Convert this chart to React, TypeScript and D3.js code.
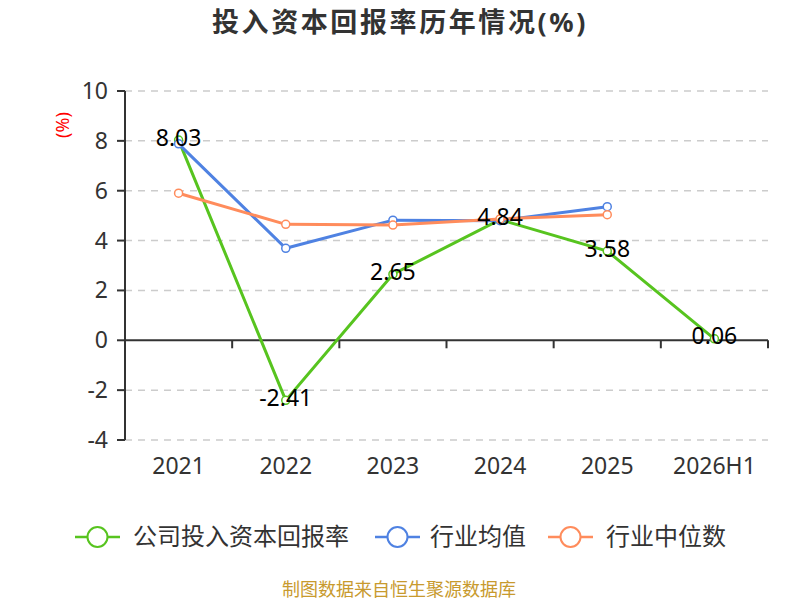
import React from 'react';
import * as d3 from 'd3';

const categories = ['2021', '2022', '2023', '2024', '2025', '2026H1'];
const companyValues = [8.03, -2.41, 2.65, 4.84, 3.58, 0.06];
const industryAvg = [7.88, 3.69, 4.82, 4.8, 5.36];
const industryMedian = [5.9, 4.65, 4.62, 4.87, 5.04];
const yTicks = [-4, -2, 0, 2, 4, 6, 8, 10];

const FONT = '"Noto Sans", "Noto Sans CJK SC", sans-serif';
const GREEN = '#57c41f';
const BLUE = '#4f82e2';
const ORANGE = '#ff8c5c';

const App: React.FC = () => {
  const x = d3.scaleBand<string>().domain(categories).range([125, 768]);
  const y = d3.scaleLinear().domain([-4, 10]).range([440, 91]);
  const cx = (c: string) => (x(c) ?? 0) + x.bandwidth() / 2;

  const line = d3
    .line<number>()
    .x((_, i) => cx(categories[i]))
    .y(d => y(d));

  const series = [
    { name: '公司投入资本回报率', values: companyValues, color: GREEN },
    { name: '行业均值', values: industryAvg, color: BLUE },
    { name: '行业中位数', values: industryMedian, color: ORANGE },
  ];

  // legend icon start / text start
  const legendPos = [
    { lx: 75, tx: 133 },
    { lx: 375, tx: 430 },
    { lx: 548, tx: 606 },
  ];

  const boundaries = categories.map(c => x(c) ?? 0).concat([768]);

  return (
    <svg
      width={800}
      height={600}
      style={{ position: 'absolute', left: 0, top: 0, background: '#fff' }}
      fontFamily={FONT}
    >
      <text x={400} y={32} textAnchor="middle" fontSize={27} letterSpacing={2.6} fontWeight="bold" fill="#333">
        投入资本回报率历年情况(%)
      </text>

      {/* grid */}
      {yTicks.filter(t => t !== 0).map(t => (
        <line key={t} x1={125} x2={768} y1={y(t)} y2={y(t)} stroke="#cccccc" strokeWidth={1.5} strokeDasharray="7,6" />
      ))}

      {/* y axis */}
      <line x1={125} x2={125} y1={91} y2={440} stroke="#333" strokeWidth={2} />
      {yTicks.map(t => (
        <g key={t}>
          <line x1={117} x2={125} y1={y(t)} y2={y(t)} stroke="#333" strokeWidth={2} />
          <text x={108} y={y(t)} dy="0.35em" textAnchor="end" fontSize={23} fill="#333">
            {t}
          </text>
        </g>
      ))}
      <text
        transform={`translate(63,125) rotate(-90)`}
        textAnchor="middle"
        dy="0.35em"
        fontSize={18}
        fill="#ff0000"
      >
        (%)
      </text>

      {/* x axis at zero */}
      <line x1={125} x2={768} y1={y(0)} y2={y(0)} stroke="#333" strokeWidth={2} />
      {boundaries.map((b, i) => (
        <line key={i} x1={b} x2={b} y1={y(0)} y2={y(0) + 8} stroke="#333" strokeWidth={2} />
      ))}
      {categories.map(c => (
        <text key={c} x={cx(c)} y={474} textAnchor="middle" fontSize={23} fill="#333">
          {c}
        </text>
      ))}

      {/* lines */}
      {series.map(s => (
        <g key={s.name}>
          <path d={line(s.values) ?? ''} fill="none" stroke={s.color} strokeWidth={3} />
          {s.values.map((v, i) => (
            <circle key={i} cx={cx(categories[i])} cy={y(v)} r={4} fill="#fff" stroke={s.color} strokeWidth={1.5} />
          ))}
        </g>
      ))}

      {/* labels */}
      {companyValues.map((v, i) => (
        <text key={i} x={cx(categories[i])} y={y(v) + 5.5} textAnchor="middle" fontSize={23} fill="#000">
          {v.toFixed(2)}
        </text>
      ))}

      {/* legend */}
      {series.map((s, i) => (
        <g key={s.name}>
          <line x1={legendPos[i].lx} x2={legendPos[i].lx + 45} y1={537} y2={537} stroke={s.color} strokeWidth={2.5} />
          <circle cx={legendPos[i].lx + 22.5} cy={537} r={10} fill="#fff" stroke={s.color} strokeWidth={2} />
          <text x={legendPos[i].tx} y={537} dy="0.35em" fontSize={24} fill="#333">
            {s.name}
          </text>
        </g>
      ))}

      <text x={399} y={590} dy="0.35em" textAnchor="middle" fontSize={18} fill="#c89a2e">
        制图数据来自恒生聚源数据库
      </text>
    </svg>
  );
};

export default App;
